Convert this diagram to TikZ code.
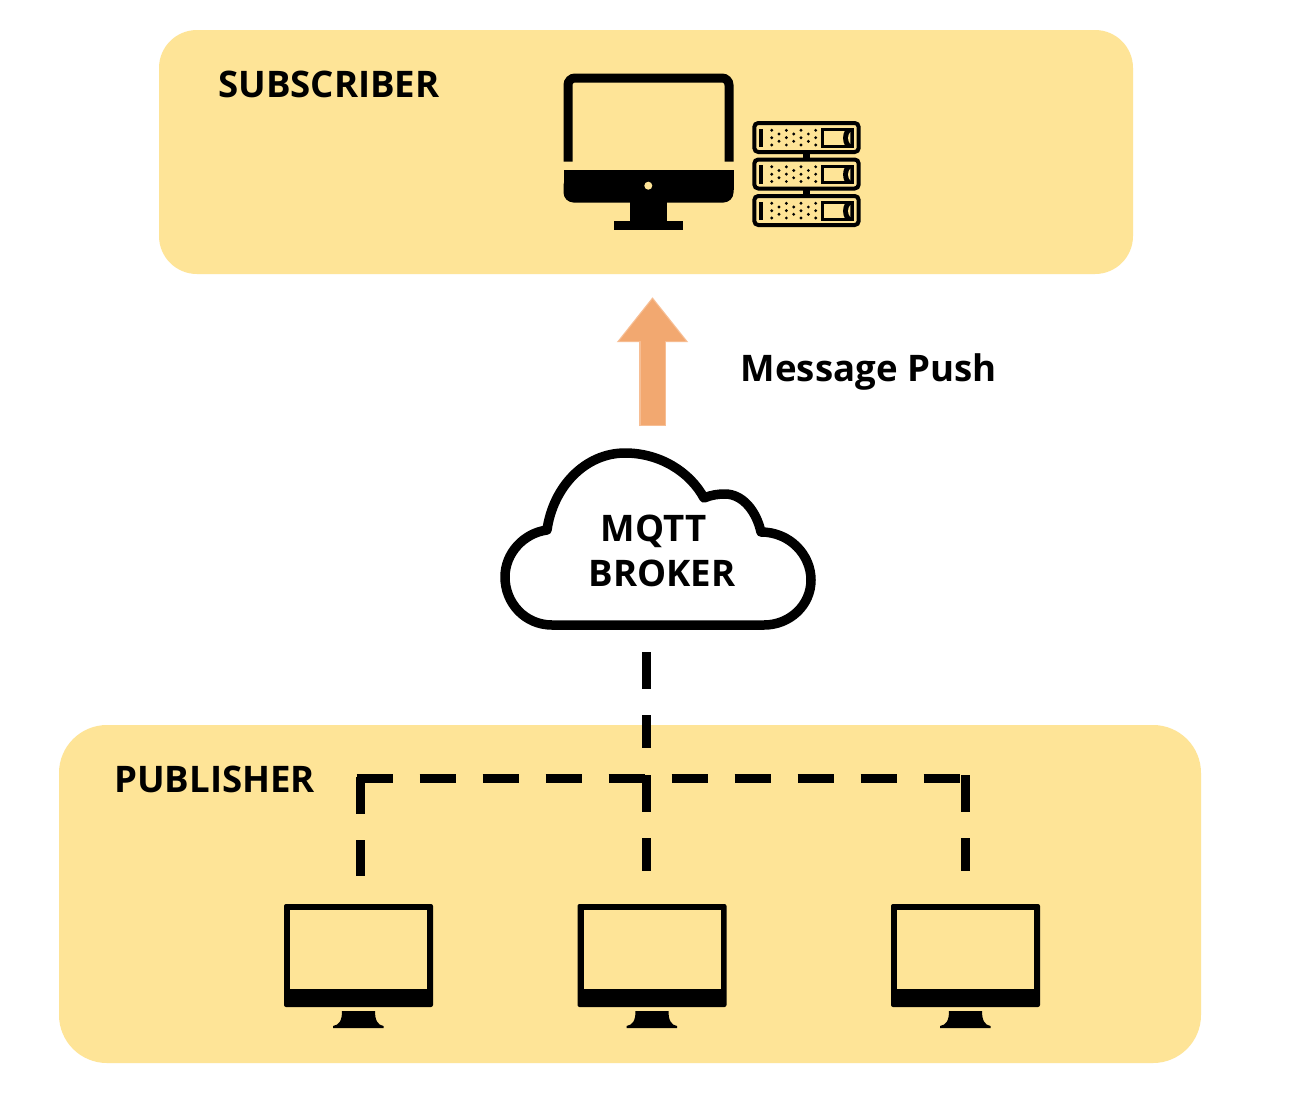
\documentclass[tikz,border=0pt]{standalone}
\usepackage{fontspec}
\setmainfont{Open Sans}
\usetikzlibrary{arrows.meta}
\definecolor{panelc}{HTML}{FEE497}
\definecolor{arrowc}{HTML}{F2A870}
\definecolor{arrowedge}{HTML}{F7BE94}
\tikzset{
  panel/.style={fill=panelc,draw=none,rounded corners=#1,inner sep=0pt,outer sep=0pt},
  lbl/.style={font=\fontsize{36.6}{45}\selectfont\bfseries,anchor=base west,inner sep=0pt,text=black},
  dashline/.style={line width=9pt,dash pattern=on 36.5pt off 26.5pt,black},
  pushedge/.style={line width=27pt,arrowedge,-{Triangle[length=45pt,width=68pt]}},
  pushline/.style={line width=24pt,arrowc,-{Triangle[length=42pt,width=63.5pt]}},
  smallmon/.pic={
    \fill[rounded corners=2pt] (0,0) rectangle (149,103);
    \fill[panelc] (6,6) rectangle (143,85);
    \fill (58,107) -- (91,107) .. controls (91,117) and (94,121) .. (99.5,122) -- (99.5,124) -- (49,124) -- (49,122) .. controls (55,121) and (58,117) .. (58,107) -- cycle;
  },
  serverunit/.pic={
    \draw[line width=4pt,rounded corners=4pt] (2,2) rectangle (106.4,31);
    \fill (7,7.5) rectangle (10.4,26);
    \foreach \i in {0,2,4,6} \foreach \r in {9.3,16.7,24} \fill (19.4+\i*7.33,\r) circle (1.6pt);
    \foreach \i in {1,3,5} \foreach \r in {13,20.3} \fill (19.4+\i*7.33,\r) circle (1.6pt);
    \draw[line width=3pt] (70.5,8.5) rectangle (100.5,25);
    \fill (100,9) -- (93,9) .. controls (90,13) and (90,21) .. (93,25) -- (100,25) -- cycle;
    \fill[panelc] (98,11) .. controls (95,14) and (95,20) .. (98,23) -- cycle;
  }
}
\begin{document}
\begin{tikzpicture}[x=1pt,y=-1pt]
\useasboundingbox (0,0) rectangle (1302,1093);
% panels
\fill[white] (0,0) rectangle (1302,1093);
\node[panel=38pt,minimum width=974pt,minimum height=244pt] (subscriber) at (646,152) {};
\node[panel=48pt,minimum width=1142pt,minimum height=338pt] (publisher) at (630,894) {};
\node[lbl] (sublabel) at (218,97.5) {SUBSCRIBER};
\node[lbl] (publabel) at (114,792) {PUBLISHER};
% big monitor
\draw[line width=9pt,rounded corners=7pt] (568,161.5) -- (568,78) -- (729,78) -- (729,161.5);
\fill[rounded corners=10pt] (563.5,175) rectangle (733.5,202.5);
\fill (563.5,169.5) rectangle (733.5,190);
\fill[panelc] (648.3,185.7) circle (4pt);
\fill (629.7,200) rectangle (667.3,222);
\fill (614.3,221) rectangle (682.7,230.3);
% servers
\pic at (752.3,121) {serverunit};
\pic at (752.3,157.5) {serverunit};
\pic at (752.3,194) {serverunit};
\fill (802.7,153) rectangle (810,159);
\fill (802.7,189) rectangle (810,195);
% push arrow
\coordinate (pushbase) at (652.5,426);
\coordinate (pushtip) at (652.5,297);
\coordinate (pushbasein) at (652.5,425);
\coordinate (pushtipin) at (652.5,299);
\draw[pushedge] (pushbase) -- (pushtip);
\draw[pushline] (pushbasein) -- (pushtipin);
\node[lbl] (pushlabel) at (740.5,381.5) {Message Push};
% cloud
\draw[line width=9.5pt,line join=round,fill=white]
  (552,625) .. controls (525,625) and (505,603) .. (505,577)
  .. controls (505,553) and (524,533) .. (547,530)
  .. controls (553,487) and (585,453) .. (625,453)
  .. controls (660,453) and (690,472) .. (704,498)
  .. controls (711,495) and (718,494) .. (725,494)
  .. controls (742,494) and (756,510) .. (761,532)
  .. controls (790,532) and (811,555) .. (811,580)
  .. controls (811,605) and (790,625) .. (764,625) -- cycle;
\node[lbl,anchor=center,align=left] (broker) at (662,550.5) {\hspace*{12pt}MQTT\\BROKER};
% monitors
\pic at (284,904) {smallmon};
\pic at (577.5,904) {smallmon};
\pic at (891,904) {smallmon};
% connectors
\coordinate (brokerdrop) at (646.5,652);
\coordinate (trunkend) at (646.5,748);
\coordinate (busleft) at (356.5,778.5);
\coordinate (busright) at (969,778.5);
\coordinate (dropLtop) at (360.5,777);
\coordinate (dropLend) at (360.5,875.5);
\coordinate (dropMtop) at (646.5,775);
\coordinate (dropMend) at (646.5,871);
\coordinate (dropRtop) at (965,775);
\coordinate (dropRend) at (965,871);
\draw[dashline] (brokerdrop) -- (trunkend);
\draw[dashline] (busleft) -- (busright);
\draw[dashline] (dropLtop) -- (dropLend);
\draw[dashline] (dropMtop) -- (dropMend);
\draw[dashline] (dropRtop) -- (dropRend);
\end{tikzpicture}
\end{document}
